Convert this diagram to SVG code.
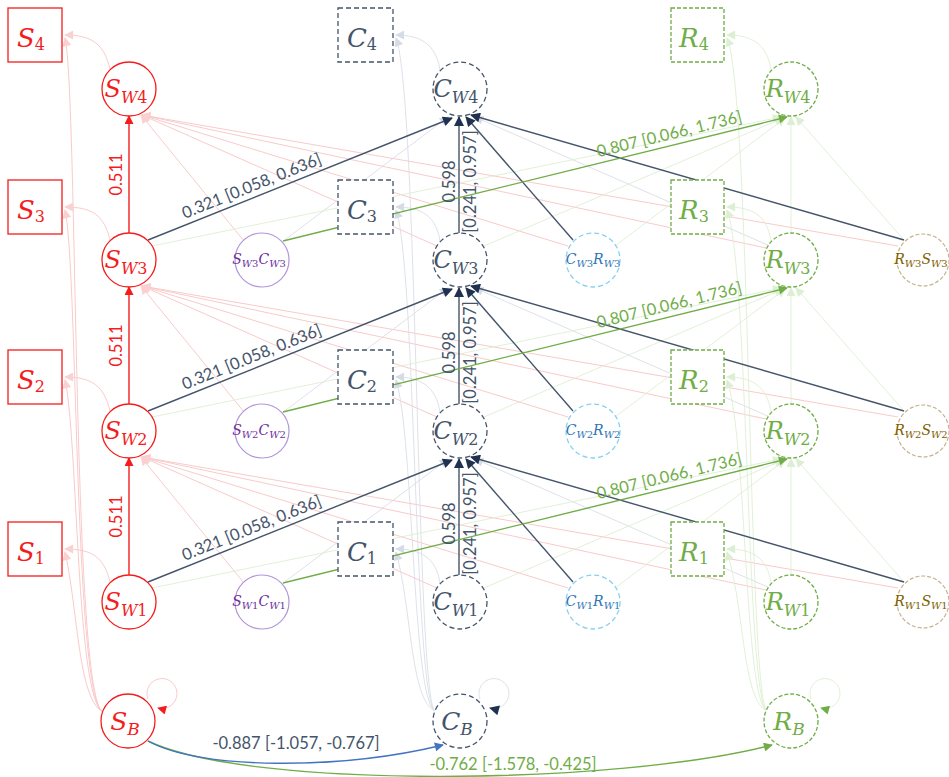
<svg xmlns="http://www.w3.org/2000/svg" width="949" height="777" viewBox="0 0 949 777">
<defs>
<style>
.lbl{font-family:Lato,"Liberation Sans",sans-serif;font-size:16.5px}
.m{font-family:"DejaVu Serif","Liberation Serif",serif;font-style:italic}
.up{font-style:normal}
.red{fill:#f41d1d}.dk{fill:#44546a}.gr{fill:#70ad47}.pu{fill:#7030a0}.bl{fill:#2e75b6}.br{fill:#806000}
.sbox{fill:#fff;stroke:#f41d1d;stroke-width:1.3}
.scir{fill:#fff;stroke:#f41d1d;stroke-width:1.3}
.cbox{fill:#fff;stroke:#44546a;stroke-width:1.3;stroke-dasharray:5 3}
.rbox{fill:#fff;stroke:#70ad47;stroke-width:1.3;stroke-dasharray:4 2}
.pcir{fill:#fff;stroke:#b196dc;stroke-width:1.2}
.ccir{fill:#fff;stroke:#86d0f2;stroke-width:1.3;stroke-dasharray:5 3}
.bcir{fill:#fff;stroke:#c6b28b;stroke-width:1.2;stroke-dasharray:4 2}
.e-red{stroke:#f41d1d;stroke-width:1.4;fill:none}
.e-dk{stroke:#44546a;stroke-width:1.4;fill:none}
.e-gr{stroke:#70ad47;stroke-width:1.4;fill:none}
.e-bl{stroke:#4472c4;stroke-width:1.4;fill:none}
.f-pk{stroke:#f8c4c4;stroke-width:0.9;fill:none}
.f-gy{stroke:#d9dee6;stroke-width:0.9;fill:none}
.f-gn{stroke:#deeed3;stroke-width:0.9;fill:none}
</style>
<marker id="a-red" viewBox="0 0 10 10" refX="9" refY="5" markerWidth="10" markerHeight="9" markerUnits="userSpaceOnUse" orient="auto"><path d="M0,0L10,5L0,10z" fill="#f41d1d"/></marker>
<marker id="a-dk" viewBox="0 0 10 10" refX="9" refY="5" markerWidth="11" markerHeight="10" markerUnits="userSpaceOnUse" orient="auto"><path d="M0,0L10,5L0,10z" fill="#1f3050"/></marker>
<marker id="a-gr" viewBox="0 0 10 10" refX="9" refY="5" markerWidth="10" markerHeight="9" markerUnits="userSpaceOnUse" orient="auto"><path d="M0,0L10,5L0,10z" fill="#70ad47"/></marker>
<marker id="a-bl" viewBox="0 0 10 10" refX="9" refY="5" markerWidth="10" markerHeight="9" markerUnits="userSpaceOnUse" orient="auto"><path d="M0,0L10,5L0,10z" fill="#4472c4"/></marker>
<marker id="a-pk" viewBox="0 0 10 10" refX="9" refY="5" markerWidth="10" markerHeight="9" markerUnits="userSpaceOnUse" orient="auto"><path d="M0,0L10,5L0,10z" fill="#fbd0d0"/></marker>
<marker id="a-gy" viewBox="0 0 10 10" refX="9" refY="5" markerWidth="10" markerHeight="9" markerUnits="userSpaceOnUse" orient="auto"><path d="M0,0L10,5L0,10z" fill="#d6dce6"/></marker>
<marker id="a-gn" viewBox="0 0 10 10" refX="9" refY="5" markerWidth="10" markerHeight="9" markerUnits="userSpaceOnUse" orient="auto"><path d="M0,0L10,5L0,10z" fill="#ddefd2"/></marker>
</defs>
<rect width="949" height="777" fill="#fff"/>

<g id="connectors">
<g class="f-pk" marker-end="url(#a-pk)">
<path d="M103,712 C78,700 78,609 65,552"/>
<path d="M103,712 C76,700 78,437 65,380"/>
<path d="M103,712 C74,700 78,267 65,210"/>
<path d="M103,712 C72,700 78,95 65,38"/>
<path d="M110,582 C104,557 92,549 65,549"/>
<path d="M110,411 C104,386 92,377 65,377"/>
<path d="M110,240 C104,215 92,207 65,207"/>
<path d="M110,69 C104,44 92,35 65,35"/>
<path d="M244,583 L141,457"/><path d="M437,588 L142,457"/><path d="M568,588 L142,457"/><path d="M766,590 L142,457"/><path d="M898,588 L142,457"/>
<path d="M244,412 L141,286"/><path d="M437,417 L142,286"/><path d="M568,417 L142,286"/><path d="M766,419 L142,286"/><path d="M898,417 L142,286"/>
<path d="M244,241 L141,115"/><path d="M437,246 L142,115"/><path d="M568,246 L142,115"/><path d="M766,248 L142,115"/><path d="M898,246 L142,115"/>
</g>
<g class="f-gy" marker-end="url(#a-gy)">
<path d="M435,711 C410,700 412,609 396,552"/>
<path d="M435,711 C412,700 414,437 396,380"/>
<path d="M435,711 C414,700 416,267 396,210"/>
<path d="M435,711 C416,700 418,95 396,38"/>
<path d="M440,583 C436,557 420,549 396,549"/>
<path d="M440,412 C436,386 420,377 396,377"/>
<path d="M440,241 C436,215 420,207 396,207"/>
<path d="M440,70 C436,44 420,35 396,35"/>
<path d="M282,584 L448,459"/><path d="M770,588 L475,459"/>
<path d="M282,413 L448,288"/><path d="M770,417 L475,288"/>
<path d="M282,242 L448,117"/><path d="M770,246 L475,117"/>
</g>
<g class="f-gn" marker-end="url(#a-gn)">
<path d="M767,711 C742,700 745,609 727,552"/>
<path d="M767,711 C744,700 747,437 727,380"/>
<path d="M767,711 C746,700 749,267 727,210"/>
<path d="M767,711 C748,700 751,95 727,38"/>
<path d="M771,583 C767,557 752,549 727,549"/>
<path d="M771,412 C767,386 752,377 727,377"/>
<path d="M771,241 C767,215 752,207 727,207"/>
<path d="M771,70 C767,44 752,35 727,35"/>
<path d="M152,588 L781,459"/><path d="M484,588 L783,460"/><path d="M615,588 L785,460"/><path d="M791,575 L791,459"/><path d="M904,582 L796,459"/>
<path d="M152,417 L781,288"/><path d="M484,417 L783,289"/><path d="M615,417 L785,289"/><path d="M791,404 L791,288"/><path d="M904,411 L796,288"/>
<path d="M152,246 L781,117"/><path d="M484,246 L783,118"/><path d="M615,246 L785,118"/><path d="M791,233 L791,117"/><path d="M904,240 L796,117"/>
</g>

<path d="M148,699 A15,15 0 1 1 158,708" class="f-pk" marker-end="url(#a-red)"/>
<path d="M480,699 A15,15 0 1 1 490,708" class="f-gy" marker-end="url(#a-dk)"/>
<path d="M811,699 A15,15 0 1 1 821,708" class="f-gn" marker-end="url(#a-gr)"/>

<g class="e-red" marker-end="url(#a-red)">
<line x1="129" y1="575" x2="129" y2="458"/>
<line x1="129" y1="404" x2="129" y2="287"/>
<line x1="129" y1="233" x2="129" y2="116"/>
</g>
<g class="e-dk" marker-end="url(#a-dk)">
<line x1="148" y1="582" x2="452" y2="460"/>
<line x1="148" y1="411" x2="452" y2="289"/>
<line x1="148" y1="240" x2="452" y2="118"/>
<line x1="459" y1="575" x2="459" y2="459"/>
<line x1="459" y1="404" x2="459" y2="288"/>
<line x1="459" y1="233" x2="459" y2="117"/>
<line x1="573" y1="582" x2="466" y2="459"/>
<line x1="573" y1="411" x2="466" y2="288"/>
<line x1="573" y1="240" x2="466" y2="117"/>
<line x1="904" y1="582" x2="471" y2="457"/>
<line x1="904" y1="411" x2="471" y2="286"/>
<line x1="904" y1="240" x2="471" y2="115"/>
</g>
<g class="e-gr" marker-end="url(#a-gr)">
<line x1="283" y1="583" x2="787" y2="459"/>
<line x1="283" y1="412" x2="787" y2="288"/>
<line x1="283" y1="241" x2="787" y2="117"/>
</g>
<path d="M148,741 C250,790 620,785 772,745" class="e-gr" marker-end="url(#a-gr)"/>
<path d="M148,741 C200,770 340,770 443,745" class="e-bl" marker-end="url(#a-bl)"/>
</g>

<g id="S4"><rect x="8" y="8" width="54" height="54" class="sbox"/><text x="31" y="47" class="m red" font-size="26" text-anchor="middle">S<tspan dy="3" font-size="16" class="up">4</tspan></text></g>
<g id="S3"><rect x="8" y="180" width="54" height="54" class="sbox"/><text x="31" y="219" class="m red" font-size="26" text-anchor="middle">S<tspan dy="3" font-size="16" class="up">3</tspan></text></g>
<g id="S2"><rect x="8" y="350" width="54" height="54" class="sbox"/><text x="31" y="389" class="m red" font-size="26" text-anchor="middle">S<tspan dy="3" font-size="16" class="up">2</tspan></text></g>
<g id="S1"><rect x="8" y="522" width="54" height="54" class="sbox"/><text x="31" y="561" class="m red" font-size="26" text-anchor="middle">S<tspan dy="3" font-size="16" class="up">1</tspan></text></g>

<g id="SW4"><circle cx="129" cy="89" r="27" class="scir"/><text x="126" y="97" class="m red" font-size="24" text-anchor="middle">S<tspan dy="6" font-size="16">W</tspan><tspan font-size="16" class="up">4</tspan></text></g>
<g id="SW3"><circle cx="129" cy="260" r="27" class="scir"/><text x="126" y="268" class="m red" font-size="24" text-anchor="middle">S<tspan dy="6" font-size="16">W</tspan><tspan font-size="16" class="up">3</tspan></text></g>
<g id="SW2"><circle cx="129" cy="431" r="27" class="scir"/><text x="126" y="439" class="m red" font-size="24" text-anchor="middle">S<tspan dy="6" font-size="16">W</tspan><tspan font-size="16" class="up">2</tspan></text></g>
<g id="SW1"><circle cx="129" cy="602" r="27" class="scir"/><text x="126" y="610" class="m red" font-size="24" text-anchor="middle">S<tspan dy="6" font-size="16">W</tspan><tspan font-size="16" class="up">1</tspan></text></g>
<g id="SB"><circle cx="128" cy="721" r="27" class="scir"/><text x="125" y="730" class="m red" font-size="25" text-anchor="middle">S<tspan dy="5" font-size="17">B</tspan></text></g>

<g id="SW3CW3"><circle cx="262" cy="260" r="27" class="pcir"/><text x="259" y="264" class="m pu" font-size="14" text-anchor="middle">S<tspan dy="3" font-size="10">W</tspan><tspan font-size="10" class="up">3</tspan><tspan dy="-3">C</tspan><tspan dy="3" font-size="10">W</tspan><tspan font-size="10" class="up">3</tspan></text></g>
<g id="SW2CW2"><circle cx="262" cy="431" r="27" class="pcir"/><text x="259" y="435" class="m pu" font-size="14" text-anchor="middle">S<tspan dy="3" font-size="10">W</tspan><tspan font-size="10" class="up">2</tspan><tspan dy="-3">C</tspan><tspan dy="3" font-size="10">W</tspan><tspan font-size="10" class="up">2</tspan></text></g>
<g id="SW1CW1"><circle cx="262" cy="602" r="27" class="pcir"/><text x="259" y="606" class="m pu" font-size="14" text-anchor="middle">S<tspan dy="3" font-size="10">W</tspan><tspan font-size="10" class="up">1</tspan><tspan dy="-3">C</tspan><tspan dy="3" font-size="10">W</tspan><tspan font-size="10" class="up">1</tspan></text></g>

<g id="C4"><rect x="338" y="8" width="55" height="54" class="cbox"/><text x="362" y="47" class="m dk" font-size="26" text-anchor="middle">C<tspan dy="3" font-size="16" class="up">4</tspan></text></g>
<g id="C3"><rect x="338" y="180" width="55" height="54" class="cbox"/><text x="362" y="219" class="m dk" font-size="26" text-anchor="middle">C<tspan dy="3" font-size="16" class="up">3</tspan></text></g>
<g id="C2"><rect x="338" y="350" width="55" height="54" class="cbox"/><text x="362" y="389" class="m dk" font-size="26" text-anchor="middle">C<tspan dy="3" font-size="16" class="up">2</tspan></text></g>
<g id="C1"><rect x="338" y="522" width="55" height="54" class="cbox"/><text x="362" y="561" class="m dk" font-size="26" text-anchor="middle">C<tspan dy="3" font-size="16" class="up">1</tspan></text></g>

<g id="CW4"><circle cx="460" cy="89" r="27" class="cbox"/><text x="456" y="97" class="m dk" font-size="24" text-anchor="middle">C<tspan dy="6" font-size="16">W</tspan><tspan font-size="16" class="up">4</tspan></text></g>
<g id="CW3"><circle cx="460" cy="260" r="27" class="cbox"/><text x="456" y="268" class="m dk" font-size="24" text-anchor="middle">C<tspan dy="6" font-size="16">W</tspan><tspan font-size="16" class="up">3</tspan></text></g>
<g id="CW2"><circle cx="460" cy="431" r="27" class="cbox"/><text x="456" y="439" class="m dk" font-size="24" text-anchor="middle">C<tspan dy="6" font-size="16">W</tspan><tspan font-size="16" class="up">2</tspan></text></g>
<g id="CW1"><circle cx="460" cy="602" r="27" class="cbox"/><text x="456" y="610" class="m dk" font-size="24" text-anchor="middle">C<tspan dy="6" font-size="16">W</tspan><tspan font-size="16" class="up">1</tspan></text></g>
<g id="CB"><circle cx="460" cy="721" r="27" class="cbox"/><text x="457" y="730" class="m dk" font-size="25" text-anchor="middle">C<tspan dy="5" font-size="17">B</tspan></text></g>

<g id="CW3RW3"><circle cx="593" cy="260" r="27" class="ccir"/><text x="593" y="264" class="m bl" font-size="14" text-anchor="middle">C<tspan dy="3" font-size="10">W</tspan><tspan font-size="10" class="up">3</tspan><tspan dy="-3">R</tspan><tspan dy="3" font-size="10">W</tspan><tspan font-size="10" class="up">3</tspan></text></g>
<g id="CW2RW2"><circle cx="593" cy="431" r="27" class="ccir"/><text x="593" y="435" class="m bl" font-size="14" text-anchor="middle">C<tspan dy="3" font-size="10">W</tspan><tspan font-size="10" class="up">2</tspan><tspan dy="-3">R</tspan><tspan dy="3" font-size="10">W</tspan><tspan font-size="10" class="up">2</tspan></text></g>
<g id="CW1RW1"><circle cx="593" cy="602" r="27" class="ccir"/><text x="593" y="606" class="m bl" font-size="14" text-anchor="middle">C<tspan dy="3" font-size="10">W</tspan><tspan font-size="10" class="up">1</tspan><tspan dy="-3">R</tspan><tspan dy="3" font-size="10">W</tspan><tspan font-size="10" class="up">1</tspan></text></g>

<g id="R4"><rect x="671" y="8" width="53" height="54" class="rbox"/><text x="694" y="47" class="m gr" font-size="26" text-anchor="middle">R<tspan dy="3" font-size="16" class="up">4</tspan></text></g>
<g id="R3"><rect x="671" y="180" width="53" height="54" class="rbox"/><text x="694" y="219" class="m gr" font-size="26" text-anchor="middle">R<tspan dy="3" font-size="16" class="up">3</tspan></text></g>
<g id="R2"><rect x="671" y="350" width="53" height="54" class="rbox"/><text x="694" y="389" class="m gr" font-size="26" text-anchor="middle">R<tspan dy="3" font-size="16" class="up">2</tspan></text></g>
<g id="R1"><rect x="671" y="522" width="53" height="54" class="rbox"/><text x="694" y="561" class="m gr" font-size="26" text-anchor="middle">R<tspan dy="3" font-size="16" class="up">1</tspan></text></g>

<g id="RW4"><circle cx="791" cy="89" r="27" class="rbox"/><text x="788" y="97" class="m gr" font-size="24" text-anchor="middle">R<tspan dy="6" font-size="16">W</tspan><tspan font-size="16" class="up">4</tspan></text></g>
<g id="RW3"><circle cx="791" cy="260" r="27" class="rbox"/><text x="788" y="268" class="m gr" font-size="24" text-anchor="middle">R<tspan dy="6" font-size="16">W</tspan><tspan font-size="16" class="up">3</tspan></text></g>
<g id="RW2"><circle cx="791" cy="431" r="27" class="rbox"/><text x="788" y="439" class="m gr" font-size="24" text-anchor="middle">R<tspan dy="6" font-size="16">W</tspan><tspan font-size="16" class="up">2</tspan></text></g>
<g id="RW1"><circle cx="791" cy="602" r="27" class="rbox"/><text x="788" y="610" class="m gr" font-size="24" text-anchor="middle">R<tspan dy="6" font-size="16">W</tspan><tspan font-size="16" class="up">1</tspan></text></g>
<g id="RB"><circle cx="791" cy="721" r="27" class="rbox"/><text x="789" y="730" class="m gr" font-size="25" text-anchor="middle">R<tspan dy="5" font-size="17">B</tspan></text></g>

<g id="RW3SW3"><circle cx="923" cy="260" r="26" class="bcir"/><text x="921" y="264" class="m br" font-size="14" text-anchor="middle">R<tspan dy="3" font-size="10">W</tspan><tspan font-size="10" class="up">3</tspan><tspan dy="-3">S</tspan><tspan dy="3" font-size="10">W</tspan><tspan font-size="10" class="up">3</tspan></text></g>
<g id="RW2SW2"><circle cx="923" cy="431" r="26" class="bcir"/><text x="921" y="435" class="m br" font-size="14" text-anchor="middle">R<tspan dy="3" font-size="10">W</tspan><tspan font-size="10" class="up">2</tspan><tspan dy="-3">S</tspan><tspan dy="3" font-size="10">W</tspan><tspan font-size="10" class="up">2</tspan></text></g>
<g id="RW1SW1"><circle cx="923" cy="602" r="26" class="bcir"/><text x="921" y="606" class="m br" font-size="14" text-anchor="middle">R<tspan dy="3" font-size="10">W</tspan><tspan font-size="10" class="up">1</tspan><tspan dy="-3">S</tspan><tspan dy="3" font-size="10">W</tspan><tspan font-size="10" class="up">1</tspan></text></g>

<g id="edge-labels" class="lbl" text-anchor="middle" xml:space="preserve">
<text class="red" transform="translate(122,516.5) rotate(-90)">0.511</text>
<text class="red" transform="translate(122,345.5) rotate(-90)">0.511</text>
<text class="red" transform="translate(122,174.5) rotate(-90)">0.511</text>
<text class="dk" transform="translate(256,538.7) rotate(-21.9)" y="-6">0.321 [0.058,  0.636]</text>
<text class="dk" transform="translate(256,367.7) rotate(-21.9)" y="-6">0.321 [0.058,  0.636]</text>
<text class="dk" transform="translate(256,196.7) rotate(-21.9)" y="-6">0.321 [0.058,  0.636]</text>
<text class="dk" transform="translate(455,523.5) rotate(-90)">0.598</text>
<text class="dk" transform="translate(455,352.5) rotate(-90)">0.598</text>
<text class="dk" transform="translate(455,181.5) rotate(-90)">0.598</text>
<text class="dk" transform="translate(476,523.5) rotate(-90)">[0.241,  0.957]</text>
<text class="dk" transform="translate(476,352.5) rotate(-90)">[0.241,  0.957]</text>
<text class="dk" transform="translate(476,181.5) rotate(-90)">[0.241,  0.957]</text>
<text class="gr" transform="translate(672,487.3) rotate(-13.8)" y="-6">0.807 [0.066,  1.736]</text>
<text class="gr" transform="translate(672,316.3) rotate(-13.8)" y="-6">0.807 [0.066,  1.736]</text>
<text class="gr" transform="translate(672,145.3) rotate(-13.8)" y="-6">0.807 [0.066,  1.736]</text>
<text class="dk" x="296" y="749">-0.887 [-1.057, -0.767]</text>
<text class="gr" x="513" y="770">-0.762 [-1.578, -0.425]</text>
</g>
</svg>
